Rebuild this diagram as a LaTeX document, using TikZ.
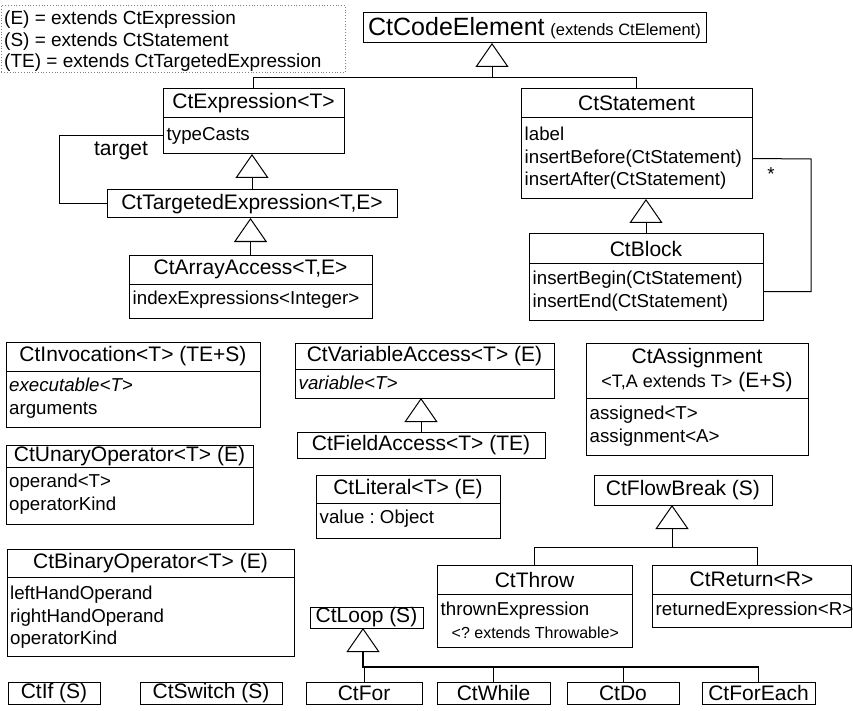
\documentclass[tikz,border=0pt]{standalone}
\usepackage{fontspec}
\setmainfont{Liberation Sans}
\usetikzlibrary{arrows.meta}
\newcommand\ttlfont{\fontsize{21}{24}\selectfont}
\newcommand\attfont{\fontsize{18.7}{22.3}\selectfont}
\newcommand\smfont{\fontsize{16}{19}\selectfont}
\newcommand\lgfont{\fontsize{19}{21.5}\selectfont}
\frenchspacing
\begin{document}
\begin{tikzpicture}[x=1pt,y=-1pt,
  cell/.style n args={4}{minimum width={(#3-#1)*1pt}, minimum height={(#4-#2)*1pt}, anchor=north west, at={(#1,#2)}},
  box/.style={draw, line width=1pt, inner sep=0pt, outer sep=0pt, font=\ttlfont},
  attrbox/.style={draw, line width=1pt, inner sep=0pt, outer sep=0pt},
  attr/.style={inner sep=0pt, align=left, anchor=north west, font=\attfont},
  conn/.style={line width=1pt},
  inh/.style={line width=1pt, -{Triangle[open, length=24pt, width=33pt, line width=1pt]}},
]
\useasboundingbox (0,0) rectangle (853,711);

% legend
\node[draw=gray, dotted, line width=0.8pt, inner sep=0pt, cell={1}{5}{345}{72}] (legend) {};
\node[anchor=north west, align=left, inner sep=0pt, font=\lgfont] (legendtxt) at (4,11)
  {(E) = extends CtExpression\\(S) = extends CtStatement\\(TE) = extends CtTargetedExpression};

% CtCodeElement
\node[box, cell={363}{13}{706}{43}] (code) {{\fontsize{25}{29}\selectfont CtCodeElement} {\fontsize{16.5}{20}\selectfont (extends CtElement)}};

% CtExpression
\node[box, cell={163}{89}{344}{118}] (expr) {CtExpression<T>};
\node[attrbox, cell={163}{118}{344}{154}] (expr-a) {};
\node[attr] (expr-t) at (166.5,127) {typeCasts};

% CtTargetedExpression
\node[box, cell={107}{190}{397}{218}] (te) {CtTargetedExpression<T,E>};

% CtArrayAccess
\node[box, cell={129}{255}{372}{284}] (aa) {CtArrayAccess<T,E>};
\node[attrbox, cell={129}{284}{372}{318}] (aa-a) {};
\node[attr] (aa-t) at (132.5,291) {indexExpressions<Integer>};

% CtStatement
\node[box, cell={521}{89}{752}{118}] (stmt) {CtStatement};
\node[attrbox, cell={521}{118}{752}{199}] (stmt-a) {};
\node[attr] (stmt-t) at (524.5,127) {label\\insertBefore(CtStatement)\\insertAfter(CtStatement)};

% CtBlock
\node[box, cell={529}{234}{763}{263}] (block) {CtBlock};
\node[attrbox, cell={529}{263}{763}{320}] (block-a) {};
\node[attr] (block-t) at (532.5,271) {insertBegin(CtStatement)\\insertEnd(CtStatement)};

% CtInvocation
\node[box, cell={6}{342}{260}{371}] (inv) {CtInvocation<T> (TE+S)};
\node[attrbox, cell={6}{371}{260}{427}] (inv-a) {};
\node[attr] (inv-t) at (9,378) {\textit{executable<T>}\\arguments};

% CtUnaryOperator
\node[box, cell={6}{445}{253}{467}] (un) {CtUnaryOperator<T> (E)};
\node[attrbox, cell={6}{467}{253}{524}] (un-a) {};
\node[attr] (un-t) at (9,474) {operand<T>\\operatorKind};

% CtBinaryOperator
\node[box, cell={7}{549}{294}{577}] (bin) {CtBinaryOperator<T> (E)};
\node[attrbox, cell={7}{577}{294}{656}] (bin-a) {};
\node[attr] (bin-t) at (10,586) {leftHandOperand\\rightHandOperand\\operatorKind};

% CtVariableAccess
\node[box, cell={295}{343}{554}{369}] (va) {CtVariableAccess<T> (E)};
\node[attrbox, cell={295}{369}{554}{398}] (va-a) {};
\node[attr] (va-t) at (298.5,376) {\textit{variable<T>}};

% CtFieldAccess
\node[box, cell={297}{432}{545}{458}] (fa) {CtFieldAccess<T> (TE)};

% CtLiteral
\node[box, cell={316}{475}{500}{503}] (lit) {CtLiteral<T> (E)};
\node[attrbox, cell={316}{503}{500}{538}] (lit-a) {};
\node[attr] (lit-t) at (319.5,510) {value : Object};

% CtAssignment
\node[box, align=center, cell={586}{343}{808}{398}] (asg) {CtAssignment\\{\fontsize{18}{22}\selectfont <T,A extends T>} (E+S)};
\node[attrbox, cell={586}{398}{808}{455}] (asg-a) {};
\node[attr] (asg-t) at (589.5,406) {assigned<T>\\assignment<A>};

% CtFlowBreak
\node[box, cell={594}{475}{772}{505}] (fb) {CtFlowBreak (S)};

% CtThrow
\node[box, cell={437}{565}{632}{594}] (throw) {CtThrow};
\node[attrbox, cell={437}{594}{632}{647}] (throw-a) {};
\node[attr] (throw-t) at (440.5,602) {thrownExpression\\\hspace*{11pt}{\smfont <? extends Throwable>}};

% CtReturn
\node[box, cell={652}{565}{851}{594}] (ret) {CtReturn<R>};
\node[attrbox, cell={652}{594}{851}{627}] (ret-a) {};
\node[attr] (ret-t) at (655.5,602) {returnedExpression<R>};

% CtLoop and children
\node[box, cell={310}{607}{423}{628}] (loop) {CtLoop (S)};
\node[box, cell={8}{682}{100}{704}] (if) {CtIf (S)};
\node[box, cell={140}{682}{282}{704}] (switch) {CtSwitch (S)};
\node[box, cell={306}{682}{422}{704}] (for) {CtFor};
\node[box, cell={437}{682}{550}{704}] (while) {CtWhile};
\node[box, cell={567}{682}{679}{704}] (do) {CtDo};
\node[box, cell={702}{682}{815}{704}] (foreach) {CtForEach};

% ---- connectors ----
\coordinate (j1) at (492,78);
\draw[conn] (expr.north) |- (j1);
\draw[conn] (stmt.north) |- (j1);
\draw[inh] (j1) -- (j1 |- code.south);

\draw[inh] (te.north) -- (te.north |- expr-a.south);
\draw[inh] (aa.north) -- (aa.north |- te.south);

\coordinate (tl) at (59,136);
\draw[conn] (expr-a.west) -- (tl) |- (te.west);
\node[font=\ttlfont, inner sep=0pt] (targetlbl) at (121,151) {target};

\draw[inh] (block.north) -- (block.north |- stmt-a.south);
\coordinate (ar) at (811,159);
\draw[conn] (stmt-a.east) -- (ar) |- (block-a.east);
\node[font=\attfont, inner sep=0pt] (star) at (771,174) {*};

\draw[inh] (fa.north) -- (fa.north |- va-a.south);

\coordinate (j2) at (672,547);
\draw[conn] (throw.north) |- (j2);
\draw[conn] ([xshift=5.5pt]ret.north) |- (j2);
\draw[inh] (j2) -- (j2 |- fb.south);

\coordinate (j3) at (363,667);
\draw[inh, line width=2pt] (j3 -| foreach.north) -- (j3) -- (j3 |- loop.south);
\draw[conn] (for.north) -- (for.north |- j3);
\draw[conn] (while.north) -- (while.north |- j3);
\draw[conn] (do.north) -- (do.north |- j3);
\draw[conn] (foreach.north) -- (foreach.north |- j3);
\end{tikzpicture}
\end{document}
